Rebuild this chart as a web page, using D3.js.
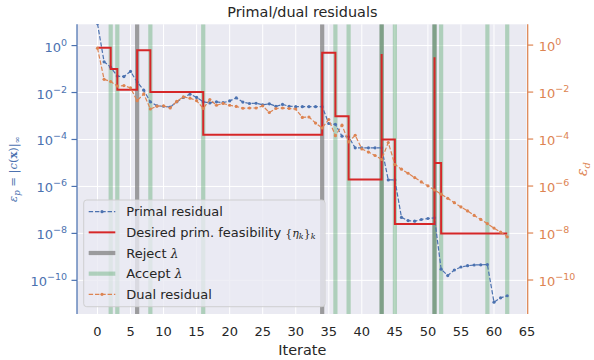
<!DOCTYPE html>
<html><head><meta charset="utf-8">
<script src="https://cdn.jsdelivr.net/npm/d3@7"></script>
<style>body{margin:0;background:#fff}</style>
</head><body><svg id="c" width="594" height="360"></svg>
<script>
// ---------- data ----------
const iterates = d3.range(0, 63);
const primal = [8.5e0, 2.04e-1, 1.2e-1, 5.0e-2, 4.8e-2, 7.9e-2, 2.8e-2, 1.26e-2, 4.0e-3, 2.7e-3,
  2.6e-3, 2.4e-3, 4.0e-3, 6.2e-3, 8.5e-3, 6.2e-3, 4.0e-3, 3.6e-3, 4.0e-3, 3.7e-3,
  4.4e-3, 5.9e-3, 3.9e-3, 3.4e-3, 3.5e-3, 3.0e-3, 3.3e-3, 2.6e-3, 3.1e-3, 2.6e-3,
  2.5e-3, 2.5e-3, 2.5e-3, 2.5e-3, 2.5e-3, 4.8e-4, 4.4e-4, 1.38e-4, 1.29e-4, 4.4e-5,
  4.4e-5, 4.4e-5, 4.4e-5, 4.4e-5, 1.9e-6, 1.9e-6, 4.8e-8, 3.5e-8, 3.3e-8, 3.9e-8,
  4.3e-8, 4.6e-8, 3.0e-10, 1.6e-10, 2.75e-10, 3.7e-10, 4.2e-10, 4.5e-10, 4.6e-10, 4.7e-10,
  1.17e-11, 1.8e-11, 2.2e-11];
const dual = [7.4e-1, 3.5e-2, 2.8e-2, 1.8e-2, 1.9e-2, 1.5e-2, 4.3e-3, 8.3e-3, 1.9e-3, 2.5e-3,
  2.6e-3, 2.1e-3, 4.0e-3, 6.2e-3, 5.5e-3, 4.3e-3, 2.0e-3, 4.8e-3, 2.75e-3, 3.3e-3,
  2.75e-3, 2.45e-3, 2.05e-3, 2.1e-3, 2.1e-3, 2.6e-3, 1.35e-3, 2.0e-3, 2.1e-3, 2.0e-3,
  1.9e-3, 8.3e-4, 8.7e-4, 4.8e-4, 2.95e-4, 6.8e-4, 1.38e-4, 3.9e-4, 7.6e-5, 1.45e-4,
  3.8e-5, 2.8e-5, 2.0e-5, 1.35e-5, 7.1e-5, 8.3e-6, 5.2e-6, 3.5e-6, 2.3e-6, 1.5e-6,
  1.02e-6, 6.8e-7, 4.5e-7, 3.0e-7, 1.95e-7, 1.29e-7, 8.7e-8, 5.6e-8, 3.8e-8, 2.5e-8,
  1.62e-8, 1.1e-8, 6.9e-9];
const etaIter = [0, 2, 3, 6, 8, 16, 34, 36, 38, 43, 43, 45, 51, 51, 52, 62];
const etaVal = [8.1e-1, 1.0e-1, 1.3e-2, 6.3e-1, 1.05e-2, 1.6e-4, 5.0e-1, 9.8e-4, 1.95e-6,
  4.4e-1, 1.0e-4, 2.5e-8, 3.2e-1, 1.0e-5, 1.0e-8, 1.0e-8];
const rejectIter = [6, 34, 43, 51];
const acceptIter = [2, 3, 8, 16, 36, 38, 43, 45, 51, 52, 59, 62];
const xTicks = d3.range(0, 66, 5);
const yTicks = [1e0, 1e-2, 1e-4, 1e-6, 1e-8, 1e-10];
const yTickExp = ["0", "\u22122", "\u22124", "\u22126", "\u22128", "\u221210"];
const legendLabels = ["Primal residual", "Desired prim. feasibility ", "Reject ", "Accept ", "Dual residual"];

// ---------- layout ----------
const L = 77, R = 527.7, T = 24.3, B = 314;
const BLUE = "#4c72b0", ORANGE = "#dd8452", RED = "#d62728", TXT = "#262626";
const GREEN_A = "rgba(85,168,104,0.4)", GRAY_A = "rgba(128,128,128,0.75)";

const svg = d3.select("#c");
const x = d3.scaleLinear().domain([-3.1, 65.1]).range([L, R]);
const yL = d3.scaleLog().domain([Math.pow(10, -11.434), Math.pow(10, 0.906)]).range([B, T]);
const yR = d3.scaleLog().domain([Math.pow(10, -11.447), Math.pow(10, 0.885)]).range([B, T]);

svg.append("defs").append("clipPath").attr("id", "clip")
  .append("rect").attr("x", L).attr("y", T).attr("width", R - L).attr("height", B - T);

svg.append("rect").attr("x", L).attr("y", T).attr("width", R - L).attr("height", B - T).attr("fill", "#eaeaf2");

// grid
const grid = svg.append("g");
grid.selectAll("line.vx").data(xTicks).join("line")
  .attr("x1", d => x(d)).attr("x2", d => x(d)).attr("y1", T).attr("y2", B)
  .attr("stroke", "#fff").attr("stroke-width", 1);
grid.selectAll("line.hy").data(yTicks).join("line")
  .attr("x1", L).attr("x2", R).attr("y1", d => yL(d)).attr("y2", d => yL(d))
  .attr("stroke", "#fff").attr("stroke-width", 1);

const plot = svg.append("g").attr("clip-path", "url(#clip)");

// vertical lines
plot.selectAll("line.rej").data(rejectIter).join("line")
  .attr("x1", d => x(d)).attr("x2", d => x(d)).attr("y1", T).attr("y2", B)
  .attr("stroke", GRAY_A).attr("stroke-width", 4.2);
plot.selectAll("line.acc").data(acceptIter).join("line")
  .attr("x1", d => x(d)).attr("x2", d => x(d)).attr("y1", T).attr("y2", B)
  .attr("stroke", GREEN_A).attr("stroke-width", 4.2);

// primal
const linePrimal = d3.line().x((d, i) => x(iterates[i])).y(d => yL(d));
plot.append("path").attr("d", linePrimal(primal)).attr("fill", "none")
  .attr("stroke", BLUE).attr("stroke-width", 1.2).attr("stroke-dasharray", "4.4,1.9");
plot.selectAll("circle.p").data(primal).join("circle")
  .attr("cx", (d, i) => x(iterates[i])).attr("cy", d => yL(d)).attr("r", 1.6).attr("fill", BLUE);

// eta
const etaPts = etaIter.map((it, i) => [it, etaVal[i]]);
const lineEta = d3.line().curve(d3.curveStepAfter).x(d => x(d[0])).y(d => yL(d[1]));
plot.append("path").attr("d", lineEta(etaPts)).attr("fill", "none")
  .attr("stroke", RED).attr("stroke-width", 2);

// dual
const lineDual = d3.line().x((d, i) => x(iterates[i])).y(d => yR(d));
plot.append("path").attr("d", lineDual(dual)).attr("fill", "none")
  .attr("stroke", ORANGE).attr("stroke-width", 1.2).attr("stroke-dasharray", "4.4,1.9");
plot.selectAll("circle.d").data(dual).join("circle")
  .attr("cx", (d, i) => x(iterates[i])).attr("cy", d => yR(d)).attr("r", 1.6).attr("fill", ORANGE);

// axes lines
svg.append("line").attr("x1", L).attr("x2", L).attr("y1", T).attr("y2", B).attr("stroke", BLUE).attr("stroke-width", 1.25);
svg.append("line").attr("x1", R).attr("x2", R).attr("y1", T).attr("y2", B).attr("stroke", ORANGE).attr("stroke-width", 1.25);

// x ticks
svg.selectAll("text.xt").data(xTicks).join("text")
  .attr("x", d => x(d)).attr("y", B + 22).attr("text-anchor", "middle")
  .attr("font-family", "DejaVu Sans").attr("font-size", 13).attr("fill", TXT).text(d => d);

// y ticks
function yTickLabels(scale, side, color) {
  const g = svg.append("g");
  yTicks.forEach((v, i) => {
    const yy = scale(v);
    const x0 = side === "L" ? L : R;
    const dir = side === "L" ? -1 : 1;
    g.append("line").attr("x1", x0).attr("x2", x0 + dir * 5.5).attr("y1", yy).attr("y2", yy)
      .attr("stroke", color).attr("stroke-width", 1.2);
    const t = g.append("text").attr("x", side === "L" ? L - 10 : R + 11).attr("y", yy + 6)
      .attr("text-anchor", side === "L" ? "end" : "start")
      .attr("font-family", "DejaVu Sans").attr("font-size", 13).attr("fill", color);
    t.append("tspan").text("10");
    t.append("tspan").attr("dy", -6).attr("font-size", 9.5).text(yTickExp[i]);
  });
}
yTickLabels(yL, "L", BLUE);
yTickLabels(yR, "R", ORANGE);

// title & labels
svg.append("text").attr("x", (L + R) / 2).attr("y", 17).attr("text-anchor", "middle")
  .attr("font-family", "DejaVu Sans").attr("font-size", 14.4).attr("fill", TXT).text("Primal/dual residuals");
svg.append("text").attr("x", (L + R) / 2).attr("y", 355).attr("text-anchor", "middle")
  .attr("font-family", "DejaVu Sans").attr("font-size", 14.4).attr("fill", TXT).text("Iterate");

const SERIF = "DejaVu Serif";
const yl = svg.append("text").attr("transform", `translate(17,${(T + B) / 2}) rotate(-90)`)
  .attr("text-anchor", "middle").attr("font-size", 11.5).attr("fill", BLUE).attr("font-family", SERIF);
yl.append("tspan").attr("font-style", "italic").text("\u03b5");
yl.append("tspan").attr("font-style", "italic").attr("font-size", 8.5).attr("dy", 3).text("p");
yl.append("tspan").attr("dy", -3).text(" = |");
yl.append("tspan").attr("font-style", "italic").text("c");
yl.append("tspan").text("(");
yl.append("tspan").attr("font-weight", "bold").text("x");
yl.append("tspan").text(")|");
yl.append("tspan").attr("font-size", 8.5).attr("dy", 3).text("\u221e");

const yr = svg.append("text").attr("transform", `translate(587,${(T + B) / 2}) rotate(-90)`)
  .attr("text-anchor", "middle").attr("font-size", 14).attr("fill", ORANGE).attr("font-family", SERIF);
yr.append("tspan").attr("font-style", "italic").text("\u03b5");
yr.append("tspan").attr("font-style", "italic").attr("font-size", 10).attr("dy", 2.5).text("d");

// legend
const lg = svg.append("g");
const lx = 83.7, ly = 200, lw = 241.3, lh = 106.7;
lg.append("rect").attr("x", lx).attr("y", ly).attr("width", lw).attr("height", lh).attr("rx", 3)
  .attr("fill", "rgba(234,234,242,0.8)").attr("stroke", "rgba(204,204,204,0.9)").attr("stroke-width", 1);
const rowY = i => 211.7 + i * 20.65;
const hx0 = 88.7, hx1 = 115.3, tx = 126.3;
const handles = [
  {c: BLUE, w: 1.2, dash: "4.4,1.9", dot: true},
  {c: RED, w: 2, dash: null, dot: false},
  {c: GRAY_A, w: 4.2, dash: null, dot: false},
  {c: GREEN_A, w: 4.2, dash: null, dot: false},
  {c: ORANGE, w: 1.2, dash: "4.4,1.9", dot: true}
];
handles.forEach((h, i) => {
  const yy = rowY(i);
  const ln = lg.append("line").attr("x1", hx0).attr("x2", hx1).attr("y1", yy).attr("y2", yy)
    .attr("stroke", h.c).attr("stroke-width", h.w);
  if (h.dash) ln.attr("stroke-dasharray", h.dash);
  if (h.dot) lg.append("circle").attr("cx", (hx0 + hx1) / 2).attr("cy", yy).attr("r", 1.6).attr("fill", h.c);
  const t = lg.append("text").attr("x", tx).attr("y", yy + 4.7).attr("font-family", "DejaVu Sans")
    .attr("font-size", 13).attr("fill", TXT);
  t.append("tspan").text(legendLabels[i]);
  if (i === 1) {
    t.append("tspan").attr("font-family", SERIF).attr("font-size", 11).text("{");
    t.append("tspan").attr("font-family", SERIF).attr("font-style", "italic").attr("font-size", 11).text("\u03b7");
    t.append("tspan").attr("font-family", SERIF).attr("font-style", "italic").attr("font-size", 8).attr("dy", 2).text("k");
    t.append("tspan").attr("font-family", SERIF).attr("font-size", 11).attr("dy", -2).text("}");
    t.append("tspan").attr("font-family", SERIF).attr("font-style", "italic").attr("font-size", 8).attr("dy", 2).text("k");
  }
  if (i === 2 || i === 3) {
    t.append("tspan").attr("font-family", SERIF).attr("font-style", "italic").attr("font-size", 12).text("\u03bb");
  }
});
</script></body></html>
